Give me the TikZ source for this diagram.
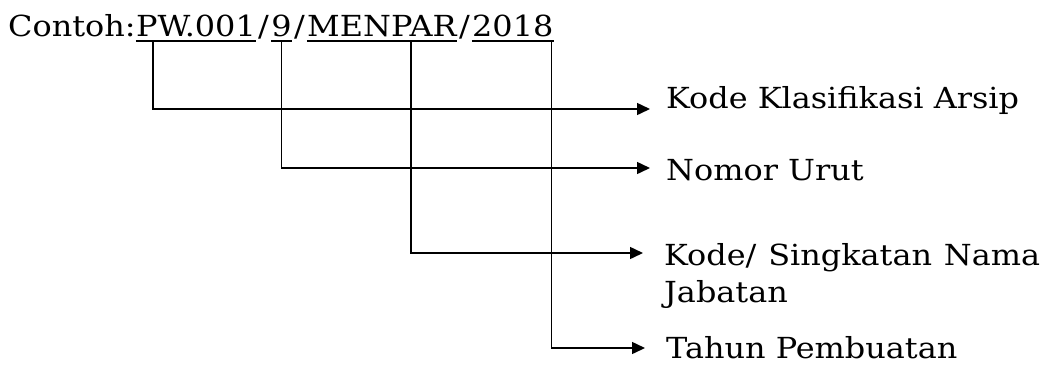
\documentclass[tikz,border=0pt]{standalone}
\usepackage{fontspec}
\setmainfont[FakeStretch=1.1]{DejaVu Serif}
\usetikzlibrary{arrows.meta}
\begin{document}
\begin{tikzpicture}[x=1pt,y=-1pt,
  txt/.style={inner sep=0pt,anchor=base west,font=\fontsize{29}{35}\selectfont},
  slash/.style={txt,inner xsep=2pt},
  uline/.style={line width=1.6pt},
  conn/.style={line width=1.5pt,-{Triangle[length=13pt,width=12pt]}}]
\useasboundingbox[fill=white] (0,0) rectangle (1050,365);
% top example
\node[txt] (c) at (8,36) {Contoh:};
\node[txt] (pw) at (c.base east) {PW.001};
\node[slash] (s1) at (pw.base east) {/};
\node[txt] (n9) at (s1.base east) {9};
\node[slash] (s2) at (n9.base east) {/};
\node[txt] (men) at (s2.base east) {MENPAR};
\node[slash] (s3) at (men.base east) {/};
\node[txt] (yr) at (s3.base east) {2018};
\foreach \n in {pw,n9,men,yr}
  \draw[uline] ([yshift=-5pt]\n.base west) -- ([yshift=-5pt]\n.base east);
% labels
\node[txt] (l1) at (666,108) {Kode Klasifikasi Arsip};
\node[txt] (l2) at (666,180) {Nomor Urut};
\node[txt] (l3) at (664,265) {\makebox[376pt][s]{Kode/ Singkatan Nama}};
\node[txt] (l3b) at (664,302) {Jabatan};
\node[txt] (l4) at (666,358) {Tahun Pembuatan};
% connector start points on the underlines
\coordinate (p1) at ([xshift=17pt,yshift=-5pt]pw.base west);
\coordinate (p2) at ([yshift=-5pt]n9.base);
\coordinate (p3) at ([xshift=104pt,yshift=-5pt]men.base west);
\coordinate (p4) at ([xshift=-2pt,yshift=-5pt]yr.base east);
\draw[conn] (p1) |- ([xshift=-16pt,yshift=-1pt]l1.base west);
\draw[conn] (p2) |- ([xshift=-16pt,yshift=12pt]l2.base west);
\draw[conn] (p3) |- ([xshift=-21pt,yshift=12pt]l3.base west);
\draw[conn] (p4) |- ([xshift=-21pt,yshift=10pt]l4.base west);
\end{tikzpicture}
\end{document}
